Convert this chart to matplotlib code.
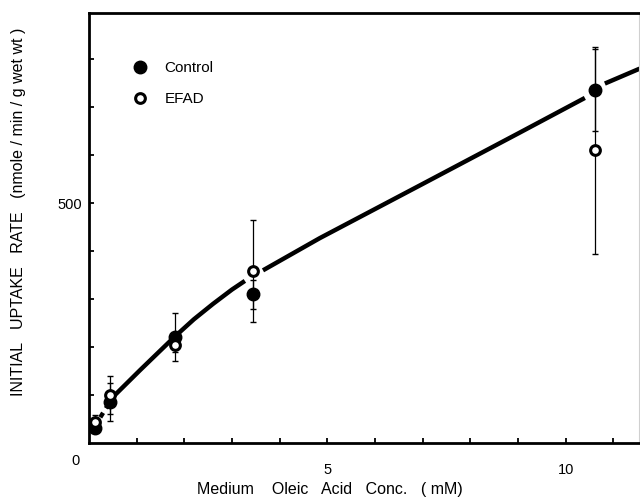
import matplotlib
matplotlib.use("Agg")

import matplotlib.pyplot as plt
import numpy as np
from matplotlib.lines import Line2D

plt.rcParams['font.family'] = ['Liberation Sans', 'DejaVu Sans']

# data
conc = [0.12, 0.45, 1.8, 3.44, 10.62]
control = [32, 86, 222, 310, 735]
control_err = [10, 40, 50, 30, 85]
efad = [44, 100, 205, 358, 610]
efad_err = [14, 40, 15, 106, 215]

# hand-drawn fitted curve (solid pieces, NaN = break in the stroke)
curve_x = [0.5, 1.07, 1.8, 2.2, 2.6, 3.0, 3.27, np.nan, 3.65, 4.84, 7.0, 9.0, 10.4, np.nan, 10.82, 11.55]
curve_y = [96, 152, 222, 258, 290, 320, 338, np.nan, 360, 427, 540, 645, 719, np.nan, 749, 780]
dash_x = [0.12, 0.5]
dash_y = [35, 96]

fig = plt.figure(figsize=(6.4, 4.98), dpi=100)
ax = fig.add_axes([0.139, 0.110, 0.859, 0.864])

ax.plot(curve_x, curve_y, color="black", lw=3.2, solid_capstyle="butt",
        solid_joinstyle="round", zorder=2)
ax.plot(dash_x, dash_y, color="black", lw=3.2, ls=(0, (1.2, 1.2)), zorder=2)

ax.errorbar(conc, efad, yerr=efad_err, fmt="none", ecolor="black",
            elinewidth=0.9, capsize=2.5, capthick=1, zorder=3)
ax.errorbar(conc, control, yerr=control_err, fmt="none", ecolor="black",
            elinewidth=0.9, capsize=2.5, capthick=1, zorder=3)
ax.plot(conc, control, "o", color="black", ms=9, zorder=4)
ax.plot(conc, efad, "o", mfc="white", mec="black", mew=2.2, ms=7, zorder=5)

ax.set_xlim(0, 11.53)
ax.set_ylim(0, 896)
ax.set_xticks(np.arange(1, 12))
ax.set_xticklabels(["5" if v == 5 else "10" if v == 10 else "" for v in range(1, 12)])
ax.set_yticks(np.arange(100, 900, 100))
ax.set_yticklabels(["500" if v == 500 else "" for v in range(100, 900, 100)])
ax.tick_params(direction="in", length=3.5, width=1.3, labelsize=10.5)
ax.tick_params(axis="x", pad=14)
ax.tick_params(axis="y", pad=5)
ax.text(-0.025, -0.025, "0", transform=ax.transAxes, ha="center", va="top", fontsize=10.5)

for side in ["left", "bottom", "top"]:
    ax.spines[side].set_linewidth(2)
ax.spines["right"].set_color("#d0d0d0")
ax.spines["right"].set_linewidth(0.8)

ax.set_xlabel("Medium    Oleic   Acid   Conc.   ( mM)", fontsize=11.5)
ax.xaxis.set_label_coords(0.438, -0.09)
ax.set_ylabel("INITIAL   UPTAKE   RATE   (nmole / min / g wet wt )", fontsize=11.5)
ax.yaxis.set_label_coords(-0.114, 0.537)

handles = [
    Line2D([], [], ls="none", marker="o", color="black", ms=9),
    Line2D([], [], ls="none", marker="o", mfc="white", mec="black", mew=2.2, ms=7),
]
ax.legend(handles, ["Control", "EFAD"], loc="upper left", bbox_to_anchor=(0.04, 0.92),
          frameon=False, fontsize=11, handletextpad=0.6, labelspacing=1.1)

fig.savefig("out.png", dpi=100)
